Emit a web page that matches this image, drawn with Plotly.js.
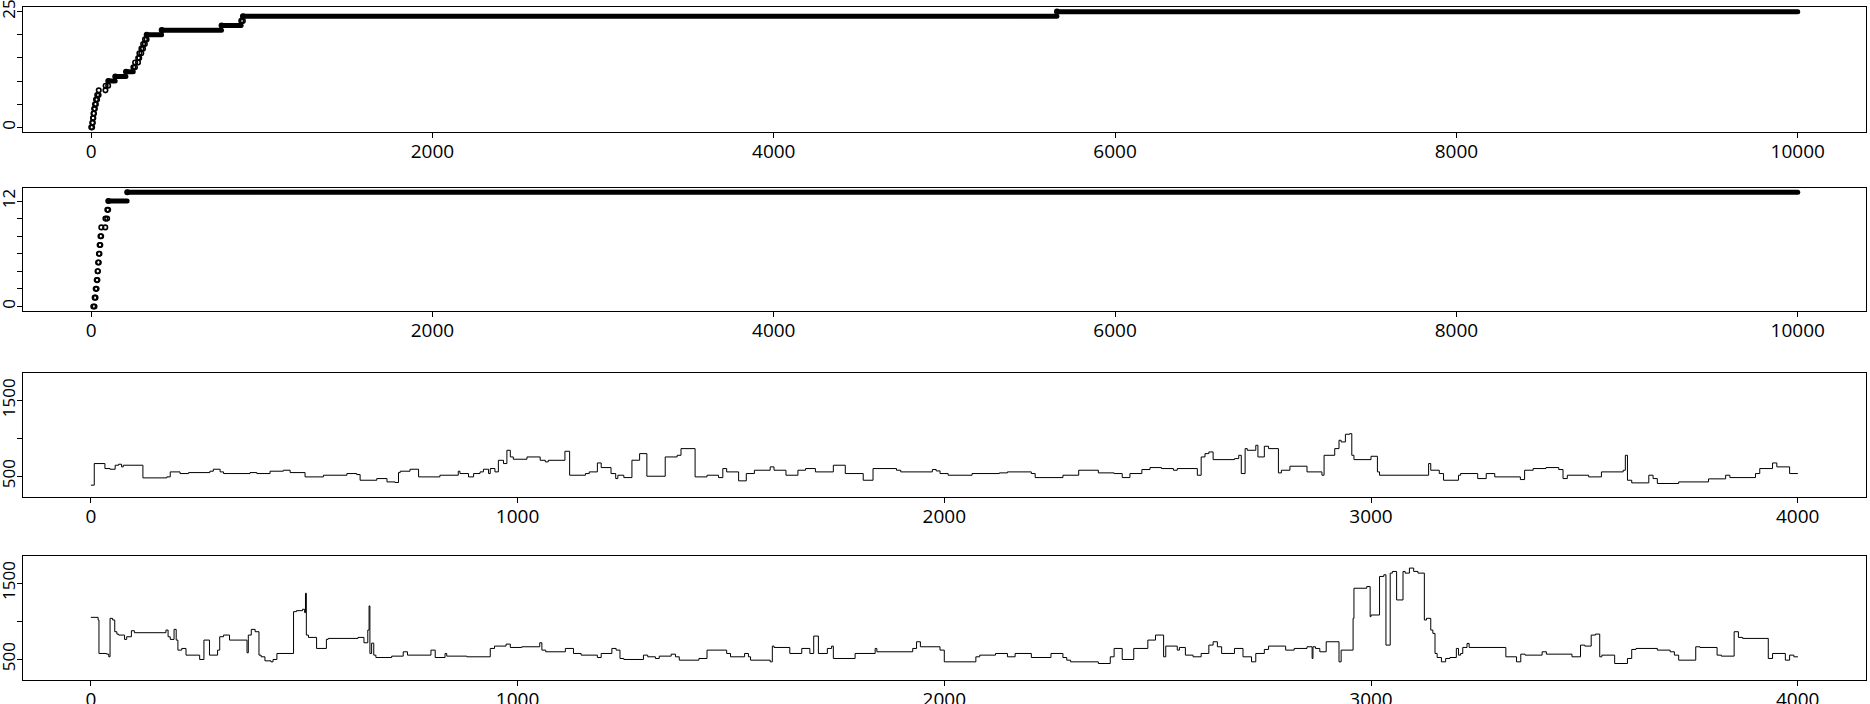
<!DOCTYPE html>
<html>
<head>
<meta charset="utf-8">
<script src="https://cdn.plot.ly/plotly-3.0.1.min.js"></script>
<style>
  html, body { margin: 0; padding: 0; background: #ffffff; }
  #chart { width: 1870px; height: 704px; }
  #chart path.js-line { stroke-linecap: round; }
</style>
</head>
<body>
<div id="chart"></div>
<script>
// ---------------- DATA ----------------
// Panel 1: cumulative count — iteration at which each level is first reached, and the level
const p1LevelStart = [1, 7, 11, 14, 18, 23, 29, 36, 45, 85, 101, 142, 205, 248, 258, 276, 283, 295, 305, 316, 326, 414, 765, 880, 890, 5660];
const p1LevelValue = [0, 1, 2, 3, 4, 5, 6, 7, 8, 9, 10, 11, 12, 13, 14, 15, 16, 17, 18, 19, 20, 21, 22, 23, 24, 25];
const p1LastIter = 10000;

// Panel 2
const p2LevelStart = [13, 21, 27, 33, 38, 41, 46, 50, 55, 60, 84, 95, 101, 212];
const p2LevelValue = [0, 1, 2, 3, 4, 5, 6, 7, 8, 9, 10, 11, 12, 13];
const p2LastIter = 10000;

// Panel 3: trace (iteration, value) at change points
const p3Iter = [1, 8, 33, 45, 57, 65, 72, 76, 122, 178, 186, 209, 229, 279, 287, 303, 311, 373, 389, 420, 451, 467, 502, 545, 600, 623, 631, 670, 694, 713, 721, 725, 748, 768, 818, 861, 865, 885, 897, 912, 920, 932, 936, 947, 955, 967, 975, 983, 990, 1022, 1053, 1065, 1072, 1111, 1122, 1159, 1168, 1187, 1196, 1219, 1230, 1235, 1249, 1268, 1286, 1303, 1346, 1374, 1383, 1416, 1444, 1471, 1481, 1490, 1518, 1536, 1555, 1592, 1601, 1629, 1657, 1675, 1698, 1740, 1768, 1810, 1833, 1888, 1898, 1972, 1981, 1990, 2009, 2065, 2129, 2148, 2204, 2213, 2278, 2315, 2361, 2398, 2417, 2435, 2463, 2482, 2509, 2537, 2546, 2593, 2602, 2611, 2620, 2630, 2680, 2690, 2696, 2705, 2710, 2730, 2735, 2750, 2760, 2783, 2790, 2810, 2850, 2885, 2890, 2915, 2925, 2930, 2940, 2950, 2955, 2960, 3000, 3015, 3020, 3135, 3140, 3160, 3170, 3205, 3210, 3250, 3270, 3290, 3350, 3360, 3380, 3410, 3440, 3450, 3460, 3510, 3540, 3591, 3596, 3601, 3611, 3651, 3661, 3671, 3721, 3791, 3831, 3841, 3901, 3911, 3941, 3951, 3981, 4000];
const p3Val  = [382, 667, 601, 592, 645, 658, 623, 645, 478, 491, 557, 535, 548, 566, 592, 557, 535, 548, 535, 566, 579, 548, 491, 513, 535, 522, 447, 469, 425, 417, 548, 566, 592, 491, 513, 566, 535, 491, 535, 557, 592, 535, 601, 557, 710, 667, 842, 754, 724, 754, 710, 689, 710, 829, 513, 535, 557, 675, 614, 535, 469, 513, 482, 711, 798, 500, 754, 776, 864, 491, 513, 482, 601, 557, 439, 535, 579, 623, 579, 513, 579, 601, 557, 645, 535, 447, 601, 579, 557, 588, 570, 535, 513, 535, 544, 557, 535, 482, 513, 579, 544, 535, 482, 535, 588, 614, 601, 579, 601, 513, 754, 798, 820, 719, 732, 776, 535, 864, 842, 908, 754, 895, 864, 544, 579, 632, 557, 513, 776, 864, 974, 952, 1053, 1061, 776, 719, 763, 557, 513, 667, 579, 535, 447, 513, 535, 469, 535, 491, 456, 579, 601, 614, 588, 469, 513, 491, 557, 579, 776, 447, 412, 513, 469, 404, 425, 465, 513, 482, 535, 601, 675, 623, 535, 535];

// Panel 4
const p4Iter = [1, 17, 19, 37, 42, 45, 51, 56, 61, 65, 79, 84, 95, 102, 176, 181, 186, 195, 200, 204, 213, 223, 255, 265, 278, 297, 302, 311, 325, 366, 369, 376, 385, 394, 399, 408, 422, 427, 436, 475, 482, 496, 501, 503, 505, 510, 529, 552, 556, 626, 640, 649, 652, 654, 658, 663, 668, 705, 732, 742, 797, 807, 830, 834, 881, 936, 946, 973, 983, 1010, 1052, 1057, 1066, 1112, 1131, 1149, 1187, 1196, 1221, 1231, 1240, 1249, 1295, 1305, 1323, 1332, 1360, 1370, 1379, 1425, 1444, 1490, 1499, 1532, 1541, 1546, 1592, 1597, 1601, 1638, 1666, 1685, 1694, 1705, 1726, 1736, 1740, 1791, 1838, 1842, 1926, 1935, 1944, 1990, 2000, 2074, 2083, 2120, 2148, 2166, 2204, 2250, 2278, 2287, 2296, 2361, 2389, 2398, 2417, 2444, 2477, 2495, 2514, 2519, 2546, 2551, 2565, 2583, 2602, 2620, 2630, 2640, 2650, 2680, 2700, 2720, 2730, 2750, 2760, 2800, 2820, 2850, 2862, 2864, 2870, 2880, 2895, 2925, 2930, 2958, 2960, 2990, 2998, 3000, 3020, 3030, 3035, 3045, 3050, 3060, 3075, 3080, 3090, 3100, 3110, 3125, 3130, 3140, 3145, 3150, 3155, 3165, 3175, 3185, 3200, 3205, 3210, 3215, 3225, 3230, 3316, 3341, 3351, 3361, 3401, 3411, 3471, 3491, 3501, 3516, 3526, 3536, 3541, 3571, 3601, 3611, 3621, 3671, 3701, 3711, 3721, 3761, 3771, 3811, 3821, 3851, 3861, 3871, 3931, 3941, 3971, 3981, 3991, 4000];
const p4Val  = [1050, 1015, 575, 566, 531, 1037, 1015, 861, 830, 817, 760, 795, 874, 848, 883, 795, 760, 892, 751, 619, 641, 553, 496, 751, 553, 619, 795, 817, 751, 584, 817, 892, 861, 553, 531, 478, 465, 496, 575, 1125, 1138, 1156, 1112, 1367, 817, 786, 641, 760, 773, 786, 716, 883, 1200, 575, 711, 553, 522, 540, 597, 553, 619, 522, 575, 540, 531, 641, 672, 698, 654, 663, 716, 619, 597, 641, 575, 553, 522, 575, 641, 619, 509, 496, 553, 531, 509, 540, 566, 531, 487, 509, 619, 575, 531, 575, 531, 487, 465, 672, 654, 575, 641, 575, 804, 575, 641, 672, 509, 575, 641, 597, 641, 729, 663, 619, 465, 531, 553, 575, 531, 575, 522, 575, 522, 487, 465, 443, 531, 641, 496, 641, 751, 817, 531, 672, 619, 654, 553, 531, 575, 685, 729, 663, 575, 641, 531, 465, 575, 628, 672, 619, 641, 663, 509, 663, 641, 597, 729, 465, 619, 1037, 1433, 1455, 1059, 1081, 1588, 1610, 685, 1632, 1654, 1279, 1654, 1632, 1698, 1654, 1632, 1015, 1037, 883, 839, 575, 522, 465, 509, 522, 641, 553, 575, 654, 707, 654, 531, 465, 566, 553, 597, 566, 531, 685, 672, 817, 830, 531, 553, 443, 509, 628, 641, 619, 597, 553, 487, 663, 654, 553, 540, 861, 786, 773, 509, 575, 487, 553, 531, 531];

// Axis ticks
const xTicksLong = [0, 2000, 4000, 6000, 8000, 10000];
const xTicksShort = [0, 1000, 2000, 3000, 4000];
const y1Ticks = [0, 5, 10, 15, 20, 25];
const y1TickText = ['0', '', '', '', '', '25'];
const y2Ticks = [0, 2, 4, 6, 8, 10, 12];
const y2TickText = ['0', '', '', '', '', '', '12'];
const y34Ticks = [500, 1000, 1500];
const y34TickText = ['500', '', '1500'];

// ---------------- BUILD ----------------
// Each level is held from its first iteration until the next level starts.
function levelTraces(starts, values, last, xa, ya) {
  const lx = [], ly = [], mx = [], my = [];
  for (let i = 0; i < starts.length; i++) {
    const s = starts[i];
    const e = (i < starts.length - 1) ? Math.max(s, starts[i + 1] - 1) : last;
    mx.push(s); my.push(values[i]);
    if (e - s < 40) {
      mx.push(e); my.push(values[i]);
    } else {
      lx.push(s, e, null);
      ly.push(values[i], values[i], null);
    }
  }
  return [
    {
      type: 'scatter', mode: 'lines', x: lx, y: ly, xaxis: xa, yaxis: ya,
      connectgaps: false, hoverinfo: 'skip', line: { color: '#000', width: 5 }
    },
    {
      type: 'scatter', mode: 'markers', x: mx, y: my, xaxis: xa, yaxis: ya,
      hoverinfo: 'skip',
      marker: { symbol: 'circle-open', size: 4.5, color: '#000', line: { color: '#000', width: 1.6 } }
    }
  ];
}

function stepTrace(xs, ys, xa, ya) {
  return {
    type: 'scatter', mode: 'lines', x: xs, y: ys, xaxis: xa, yaxis: ya,
    hoverinfo: 'skip', line: { color: '#000', width: 1, shape: 'hv' }
  };
}

const traces = [].concat(
  levelTraces(p1LevelStart, p1LevelValue, p1LastIter, 'x', 'y'),
  levelTraces(p2LevelStart, p2LevelValue, p2LastIter, 'x2', 'y2'),
  [stepTrace(p3Iter, p3Val, 'x3', 'y3'), stepTrace(p4Iter, p4Val, 'x4', 'y4')]
);

const W = 1870, H = 704;
const xDom = [23 / W, 1866 / W];
function yDom(top, bottom) { return [1 - bottom / H, 1 - top / H]; }

const tickFontX = { family: '"Open Sans", "DejaVu Sans", sans-serif', size: 19, color: '#000' };
const tickFontY = { family: '"Open Sans", "DejaVu Sans", sans-serif', size: 17, color: '#000' };

function xAxis(anchor, range, ticks) {
  return {
    domain: xDom, anchor: anchor, range: range, showgrid: false, zeroline: false,
    showline: true, mirror: true, linecolor: '#000', linewidth: 1,
    ticks: 'outside', ticklen: 5, tickwidth: 1, tickcolor: '#000',
    tickmode: 'array', tickvals: ticks, ticktext: ticks.map(String),
    tickfont: tickFontX, ticklabelstandoff: -3, ticklabeloverflow: 'allow', fixedrange: true
  };
}
function yAxis(anchor, dom, range, ticks, text) {
  return {
    domain: dom, anchor: anchor, range: range, showgrid: false, zeroline: false,
    showline: true, mirror: true, linecolor: '#000', linewidth: 1,
    ticks: 'outside', ticklen: 5, tickwidth: 1, tickcolor: '#000',
    tickmode: 'array', tickvals: ticks, ticktext: text, tickangle: -90,
    tickfont: tickFontY, ticklabelstandoff: -5, ticklabeloverflow: 'allow', fixedrange: true
  };
}

const layout = {
  width: W, height: H,
  margin: { l: 0, r: 0, t: 0, b: 0, pad: 0 },
  paper_bgcolor: '#fff', plot_bgcolor: '#fff',
  showlegend: false,
  xaxis: xAxis('y', [-399, 10400], xTicksLong),
  yaxis: yAxis('x', yDom(7, 132), [-1, 26], y1Ticks, y1TickText),
  xaxis2: xAxis('y2', [-399, 10400], xTicksLong),
  yaxis2: yAxis('x2', yDom(187.7, 311), [-0.52, 13.52], y2Ticks, y2TickText),
  xaxis3: xAxis('y3', [-159, 4160], xTicksShort),
  yaxis3: yAxis('x3', yDom(373.3, 497), [226, 1857], y34Ticks, y34TickText),
  xaxis4: xAxis('y4', [-159, 4160], xTicksShort),
  yaxis4: yAxis('x4', yDom(556, 680), [226, 1857], y34Ticks, y34TickText)
};

Plotly.newPlot('chart', traces, layout, { staticPlot: true, displayModeBar: false });
</script>
</body>
</html>
